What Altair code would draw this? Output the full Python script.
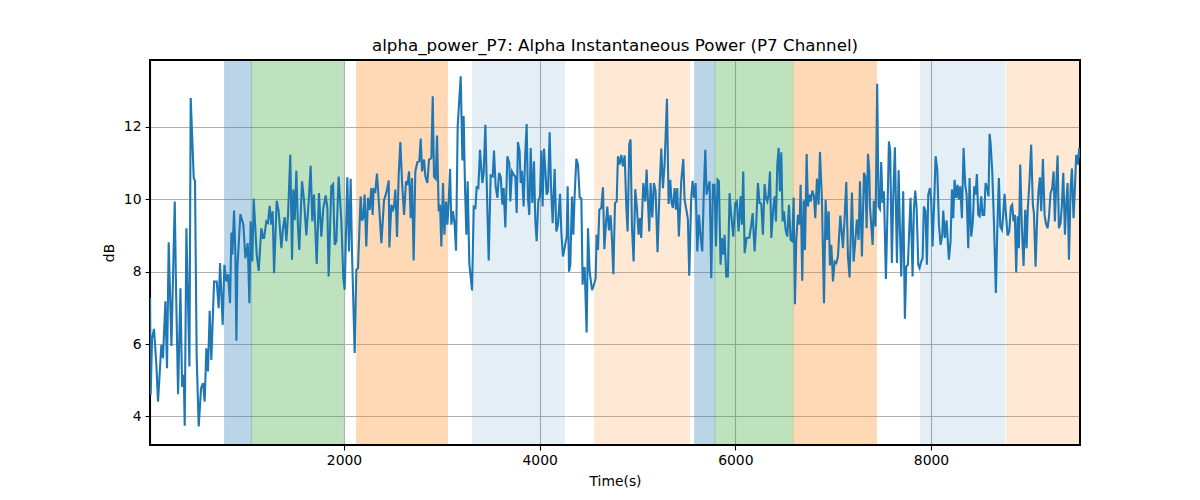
import altair as alt
import pandas as pd

time_s = [
    17, 24, 38, 58, 82, 99, 133, 150, 174, 191, 208, 236, 270, 283, 304, 328, 345, 362, 372, 389,
    420, 433, 464, 477, 494, 515, 539, 559, 576, 593, 610, 627, 644, 672, 699, 719, 733, 760, 777, 798,
    815, 835, 849, 859, 876, 890, 900, 910, 941, 971, 992, 1016, 1033, 1046, 1063, 1077, 1108, 1128, 1155, 1172,
    1183, 1206, 1223, 1240, 1257, 1271, 1285, 1312, 1332, 1360, 1377, 1394, 1411, 1428, 1451, 1469, 1482, 1496, 1513, 1530,
    1543, 1571, 1591, 1615, 1639, 1659, 1676, 1693, 1721, 1744, 1768, 1789, 1813, 1830, 1843, 1870, 1888, 1905, 1922, 1945,
    1973, 1993, 2007, 2034, 2051, 2068, 2082, 2109, 2126, 2143, 2170, 2184, 2198, 2211, 2228, 2245, 2262, 2279, 2293, 2303,
    2320, 2337, 2358, 2382, 2409, 2436, 2457,
    2464, 2484, 2501, 2511, 2525, 2542, 2559, 2576, 2593, 2614, 2634, 2648, 2665, 2682, 2695, 2712, 2729, 2750, 2770, 2784,
    2798, 2818, 2832, 2852, 2869, 2893, 2907, 2920, 2937, 2951, 2968, 2982, 2995, 3012, 3026, 3043, 3057, 3070, 3084, 3097,
    3114, 3131, 3145, 3162, 3193, 3210, 3223, 3237, 3251, 3264, 3281, 3309, 3326, 3343, 3356, 3373, 3390, 3414, 3428, 3445,
    3465, 3479, 3499, 3520, 3533, 3550, 3568, 3585, 3602, 3619, 3632, 3649, 3670, 3690,
    3700, 3717, 3734, 3751, 3765, 3778, 3795, 3806, 3819, 3836, 3853, 3867, 3880, 3894, 3908, 3925, 3942, 3955, 3969, 3986,
    4003, 4017, 4030, 4044, 4058, 4071, 4085, 4102, 4116, 4133, 4153, 4170, 4187, 4208, 4221, 4238, 4255, 4276, 4286, 4300,
    4313, 4330, 4344, 4357, 4375, 4392, 4409, 4426, 4439, 4449, 4460, 4480, 4494, 4511, 4535, 4555, 4572, 4582, 4596, 4610,
    4630, 4647, 4661, 4678, 4691, 4708, 4725, 4739, 4753, 4770, 4787, 4800, 4817, 4834, 4851, 4869, 4886, 4899, 4916,
    4929, 4943, 4960, 4977, 4994, 5011, 5025, 5038, 5059, 5079, 5093, 5107, 5120, 5134, 5151, 5168, 5185, 5205, 5226, 5243,
    5260, 5277, 5301, 5318, 5335, 5348, 5362, 5379, 5393, 5406, 5423, 5447, 5468, 5481, 5502, 5515, 5529, 5549, 5563, 5577,
    5594, 5611, 5628, 5645, 5662, 5679, 5693, 5706, 5720, 5737, 5754, 5771, 5788, 5802, 5819, 5832, 5849, 5863, 5877, 5890,
    5907, 5924, 5941, 5958, 5979, 5999, 6016, 6033, 6054, 6067, 6081, 6095, 6115,
    6143, 6163, 6177, 6197, 6214, 6231, 6248, 6265, 6282, 6299, 6313, 6327, 6340, 6354, 6368, 6388, 6402, 6415, 6429, 6443,
    6456, 6470, 6483, 6497, 6514, 6531, 6548, 6565, 6582, 6596, 6609, 6623, 6640, 6657, 6667, 6684, 6698, 6712, 6729, 6742,
    6756, 6770, 6787, 6804, 6817, 6834, 6851, 6865, 6885, 6906, 6923, 6940, 6954, 6967, 6981, 6998, 7015, 7032, 7049, 7073,
    7100, 7117, 7134, 7151, 7168, 7192, 7209, 7226, 7243, 7260, 7274, 7294, 7315, 7328, 7342, 7356, 7369,
    7376, 7389, 7403, 7416, 7433, 7450, 7464, 7478, 7491, 7505, 7519, 7539, 7553, 7570, 7583, 7600, 7614, 7631, 7652, 7669,
    7682, 7696, 7716, 7733, 7747, 7764, 7778, 7791, 7812, 7825, 7839, 7853, 7870, 7883, 7900, 7914, 7927, 7944, 7958, 7972,
    7989, 8002, 8016, 8033, 8047, 8064, 8081, 8098, 8115, 8125, 8142, 8159, 8183, 8200, 8214, 8227, 8241, 8258, 8272, 8285,
    8299, 8316, 8333, 8350, 8364, 8381, 8394, 8411, 8428, 8442, 8456, 8469, 8483, 8497, 8514, 8527, 8544, 8558, 8575, 8588,
    8599,
    8609, 8626, 8643, 8663, 8677, 8694, 8708, 8725, 8738, 8752, 8765, 8783, 8800, 8817, 8830, 8844, 8857, 8871, 8885, 8898,
    8912, 8929, 8946, 8963, 8977, 8990, 9007, 9024, 9041, 9052, 9069, 9086, 9099, 9113, 9127, 9144, 9161, 9174, 9191, 9205,
    9222, 9239, 9253, 9266, 9280, 9294, 9307, 9324, 9338, 9352, 9369, 9382, 9396, 9410, 9427, 9440, 9457, 9471, 9484, 9501,
    9515, 9522,
]

power_db = [
    7.27, 4.59, 6.16, 6.42, 5.42, 4.41, 5.98, 5.61, 7.18, 5.33, 8.81, 5.95, 9.94, 7.54, 4.61, 7.54, 4.82, 5.15, 3.74, 9.2,
    5.38, 12.8, 10.59, 10.5, 5.65, 3.72, 4.78, 4.92, 4.41, 5.88, 5.24, 6.92, 5.56, 7.73, 7.73, 6.99, 8.24, 6.53, 8.19, 7.73,
    7.93, 7.13, 9.08, 8.47, 9.69, 8.47, 6.09, 8.1, 9.59, 9.3, 8.37, 8.79, 7.13, 9.39, 8.28, 10.02, 8.47, 8.02, 9.2, 8.93,
    8.93, 9.39, 9.35, 9.82, 9.3, 9.67, 7.96, 9.96, 9.67, 8.65, 9.2, 9.51, 8.84, 9.57, 11.23, 8.33, 10.27, 9.42, 10.79, 9.2,
    8.6, 10.5, 9.99, 9.0, 9.94, 10.93, 9.39, 10.13, 8.21, 10.17, 8.97, 9.76, 10.11, 9.76, 7.87, 10.36, 10.42, 8.74, 8.84, 10.63,
    9.39, 7.82, 7.5, 10.61, 8.56, 10.57, 8.51, 5.75, 8.05, 8.1, 10.08, 9.41, 9.5, 10.13, 8.7, 10.04, 9.71, 10.31, 9.57, 10.27,
    10.22, 10.71, 9.85, 8.79, 9.97, 10.22, 10.52,
    8.67, 9.85, 9.71, 9.8, 10.27, 8.96, 10.68, 11.58, 10.5, 9.57, 10.5, 10.4, 10.77, 9.48, 10.59, 8.31, 10.77, 11.03, 11.05, 11.68,
    10.77, 11.1, 10.63, 10.45, 11.1, 11.14, 12.85, 10.63, 10.57, 11.76, 9.67, 9.85, 8.7, 10.45, 9.02, 9.94, 9.3, 9.94, 10.84, 9.3,
    9.67, 9.3, 8.58, 12.02, 13.4, 11.07, 12.3, 10.31, 9.02, 10.5, 8.22, 7.48, 9.79, 9.76, 10.33, 10.31, 11.37, 10.45, 10.73, 12.06,
    9.76, 8.31, 10.66, 10.63, 11.35, 10.36, 10.04, 10.73, 10.62, 9.85, 10.31, 9.22, 11.19, 11.0,
    9.94, 10.77, 10.68, 10.63, 9.62, 11.58, 11.33, 10.45, 10.79, 9.8, 11.28, 12.08, 10.04, 9.57, 11.42, 9.9, 11.05, 9.44, 8.84, 9.94,
    10.08, 11.35, 9.8, 11.4, 10.82, 10.13, 10.22, 11.85, 10.36, 9.34, 10.84, 9.11, 9.3, 10.15, 9.11, 8.42, 8.65, 8.97, 10.36, 8.0,
    8.19, 10.08, 9.02, 10.08, 11.12, 10.96, 10.05, 10.02, 7.64, 8.1, 8.1, 6.32, 9.2, 8.0, 7.49, 7.64, 7.82, 9.02, 8.6, 9.71,
    9.76, 10.33, 8.62, 9.34, 9.8, 9.14, 9.56, 8.88, 7.93, 9.9, 9.94, 11.19, 10.96, 11.23, 10.91, 11.21, 9.76, 9.11, 11.53,
    11.65, 9.25, 8.28, 10.28, 9.76, 9.02, 9.48, 8.93, 10.45, 9.94, 10.82, 9.94, 9.11, 10.45, 9.5, 10.45, 10.22, 8.54, 10.31, 11.4,
    10.31, 10.96, 12.78, 9.87, 10.54, 9.9, 9.76, 10.31, 9.71, 10.31, 8.97, 10.5, 11.11, 9.99, 9.67, 9.44, 7.89, 10.04, 10.51, 10.04,
    10.45, 8.56, 9.57, 8.97, 8.56, 10.31, 11.37, 10.13, 10.31, 10.5, 7.82, 10.4, 10.4, 8.7, 10.54, 10.5, 8.19, 8.93, 8.47, 9.02,
    7.87, 7.87, 10.17, 9.57, 8.97, 9.9, 9.94, 9.11, 10.08, 9.3, 10.77, 8.51, 8.93,
    8.94, 9.3, 9.62, 8.56, 9.34, 10.45, 9.9, 9.88, 9.02, 10.42, 10.04, 9.94, 10.13, 10.77, 8.93, 9.76, 10.08, 9.39, 10.96, 11.42,
    10.22, 11.3, 9.39, 9.67, 9.16, 8.97, 9.85, 8.88, 8.84, 10.05, 7.1, 8.88, 9.57, 9.3, 10.4, 7.75, 9.97, 8.6, 11.25, 9.8,
    10.13, 9.94, 10.24, 10.08, 9.48, 10.57, 9.85, 11.31, 9.99, 7.13, 9.99, 8.88, 9.67, 8.17, 8.74, 7.73, 8.28, 8.24, 8.42, 9.55,
    8.65, 9.48, 10.48, 8.42, 7.84, 10.19, 8.28, 8.84, 9.44, 8.88, 10.5, 8.42, 10.73, 10.63, 9.2, 11.26, 10.77,
    9.8, 9.3, 8.74, 9.96, 9.25, 13.19, 9.8, 9.73, 11.03, 9.9, 10.22, 7.8, 9.39, 11.6, 11.33, 8.24, 10.04, 11.44, 8.24, 10.8,
    9.2, 7.87, 10.22, 6.7, 8.14, 8.19, 9.2, 10.04, 7.87, 9.71, 10.24, 9.76, 8.19, 8.1, 8.28, 8.37, 9.8, 9.67, 8.19, 10.13,
    10.31, 9.99, 8.7, 9.94, 11.19, 10.82, 9.3, 8.74, 9.02, 9.69, 8.93, 9.42, 8.33, 8.84, 10.27, 9.48, 10.54, 10.04, 10.4, 9.99,
    10.36, 9.48, 11.42, 10.4, 10.13, 8.65, 10.59, 8.97, 9.39, 10.36, 10.13, 10.7, 9.57, 9.53, 10.08, 9.57, 9.57, 10.45, 10.31, 10.08,
    11.81,
    11.56, 10.77, 9.39, 7.41, 9.11, 10.59, 9.25, 9.16, 9.57, 10.15, 9.62, 9.0, 9.11, 9.8, 9.85, 9.39, 9.57, 7.98, 9.53, 8.65,
    10.96, 9.2, 8.16, 9.71, 8.65, 9.76, 10.5, 11.51, 9.85, 9.62, 8.14, 9.57, 10.22, 10.61, 9.67, 11.11, 9.57, 9.34, 9.2, 9.48,
    10.17, 10.31, 10.77, 9.39, 10.4, 11.21, 9.2, 9.34, 9.85, 10.73, 9.02, 9.85, 10.45, 8.33, 10.31, 10.85, 9.48, 10.31, 11.23, 10.96,
    11.42, 11.14,
]

span_start = [780, 1053, 2130, 3315, 4562, 5584, 5791, 6592, 7893, 8772]
span_end = [1053, 1995, 3056, 4252, 5533, 5791, 6589, 7444, 8752, 9600]
span_color = ["#1f77b4", "#2ca02c", "#ff7f0e", "#1f77b4", "#ff7f0e",
              "#1f77b4", "#2ca02c", "#ff7f0e", "#1f77b4", "#ff7f0e"]
span_opacity = [0.3, 0.3, 0.3, 0.12, 0.17, 0.3, 0.3, 0.3, 0.12, 0.17]

x_ticks = [2000, 4000, 6000, 8000]
y_ticks = [4, 6, 8, 10, 12]
x_domain = [17, 9523]
y_domain = [3.21, 13.85]

line_df = pd.DataFrame({"t": time_s, "v": power_db})
span_df = pd.DataFrame({"s": span_start, "e": span_end, "c": span_color, "o": span_opacity})

FONT = "DejaVu Sans"
W, H = 930, 385

xscale = alt.Scale(domain=x_domain, nice=False, zero=False)
yscale = alt.Scale(domain=y_domain, nice=False, zero=False)

xaxis = alt.Axis(values=x_ticks, title="Time(s)", grid=True, gridColor="#b0b0b0", gridWidth=1.1,
                 domainColor="black", domainWidth=1.1, tickColor="black", tickSize=5, tickWidth=1.1,
                 labelFont=FONT, labelFontSize=13.9, labelColor="black", labelPadding=3,
                 titleFont=FONT, titleFontSize=13.9, titleFontWeight="normal", titleColor="black",
                 titlePadding=8, labelFlush=False, format="d")
yaxis = alt.Axis(values=y_ticks, title="dB", grid=True, gridColor="#b0b0b0", gridWidth=1.1,
                 domainColor="black", domainWidth=1.1, tickColor="black", tickSize=5, tickWidth=1.1,
                 labelFont=FONT, labelFontSize=13.9, labelColor="black", labelPadding=4,
                 titleFont=FONT, titleFontSize=13.9, titleFontWeight="normal", titleColor="black",
                 titlePadding=7, labelFlush=False, format="d")

spans = alt.Chart(span_df).mark_rect(clip=True, strokeWidth=1).encode(
    x=alt.X("s:Q", scale=xscale, axis=xaxis),
    x2="e:Q",
    y=alt.value(0),
    y2=alt.value(H),
    color=alt.Color("c:N", scale=None),
    stroke=alt.Stroke("c:N", scale=None),
    opacity=alt.Opacity("o:Q", scale=None),
)

frame = alt.Chart(span_df).mark_rect(fill=None, fillOpacity=0, stroke="black", strokeWidth=1.1).encode(
    x=alt.value(0), x2=alt.value(W), y=alt.value(0), y2=alt.value(H),
)

line = alt.Chart(line_df).mark_line(color="#1f77b4", strokeWidth=2.1, clip=True).encode(
    x=alt.X("t:Q", scale=xscale, axis=xaxis),
    y=alt.Y("v:Q", scale=yscale, axis=yaxis),
)

chart = alt.layer(spans, frame, line).properties(
    width=W,
    height=H,
    autosize=alt.AutoSizeParams(type="none"),
    padding={"left": 142, "top": 52, "right": 112, "bottom": 47},
    title=alt.TitleParams(
        "alpha_power_P7: Alpha Instantaneous Power (P7 Channel)",
        font=FONT, fontSize=16.7, fontWeight="normal", color="black",
        anchor="middle", frame="group", offset=-8, baseline="alphabetic",
    ),
).configure_view(stroke="black", strokeWidth=1.1).configure(background="white")

chart.save("out.html", embed_options={"renderer": "svg", "actions": False})
